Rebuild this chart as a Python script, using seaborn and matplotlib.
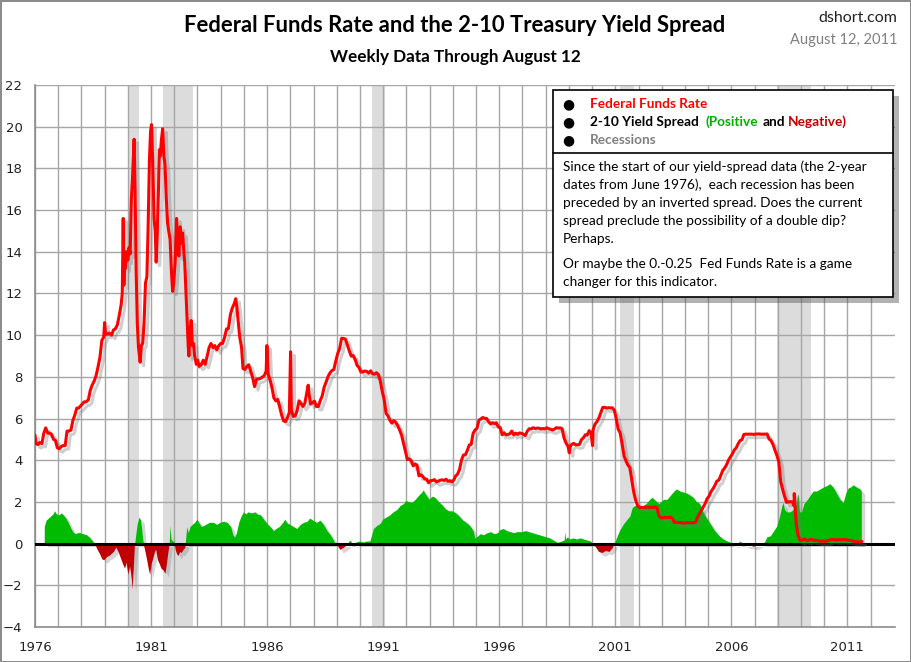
import matplotlib
matplotlib.use("Agg")
import matplotlib.pyplot as plt
import matplotlib.patheffects as pe
from matplotlib.patches import Rectangle
import numpy as np
import pandas as pd
import seaborn as sns

# ---------------- data ----------------
ff_years_a = [1976.00, 1976.04, 1976.12, 1976.20, 1976.30, 1976.38, 1976.46, 1976.55, 1976.63, 1976.71,
              1976.80, 1976.88, 1976.96, 1977.04, 1977.12, 1977.20, 1977.30, 1977.38, 1977.46, 1977.55,
              1977.63, 1977.71, 1977.80, 1977.88, 1977.96, 1978.04, 1978.12, 1978.20, 1978.30, 1978.38,
              1978.46, 1978.55, 1978.63, 1978.71, 1978.80, 1978.88, 1978.96, 1979.00, 1979.04, 1979.12,
              1979.20, 1979.30, 1979.38, 1979.46, 1979.55, 1979.63, 1979.71, 1979.76, 1979.80, 1979.83,
              1979.86, 1979.90, 1979.95, 1980.00, 1980.05, 1980.10, 1980.15, 1980.20, 1980.27, 1980.31,
              1980.36, 1980.41, 1980.46, 1980.50, 1980.53, 1980.58, 1980.64, 1980.70, 1980.76, 1980.82,
              1980.87, 1980.93, 1980.98, 1981.02, 1981.07, 1981.13, 1981.18, 1981.22, 1981.27, 1981.32,
              1981.36, 1981.40, 1981.44, 1981.50, 1981.55, 1981.60, 1981.66, 1981.71, 1981.76, 1981.82,
              1981.88, 1981.93, 1981.98, 1982.04, 1982.10, 1982.15, 1982.20, 1982.25, 1982.30, 1982.36,
              1982.40, 1982.45, 1982.50, 1982.55, 1982.60, 1982.63, 1982.68, 1982.73, 1982.78, 1982.83,
              1982.88, 1982.95, 1983.00, 1983.08, 1983.17, 1983.25, 1983.33, 1983.42, 1983.50, 1983.58,
              1983.67, 1983.75, 1983.83, 1983.92, 1984.00, 1984.08, 1984.17, 1984.25, 1984.33, 1984.42,
              1984.50, 1984.58, 1984.65, 1984.70, 1984.76, 1984.82, 1984.90, 1984.96]
ff_vals_a = [5.2, 4.8, 4.75, 4.85, 4.8, 5.3, 5.55, 5.3, 5.3, 5.25,
             5.0, 4.95, 4.6, 4.55, 4.65, 4.7, 4.7, 5.4, 5.4, 5.45,
             5.9, 6.15, 6.5, 6.5, 6.6, 6.7, 6.8, 6.8, 6.9, 7.35,
             7.6, 7.8, 8.05, 8.45, 8.95, 9.75, 9.9, 10.6, 10.05, 10.05,
             10.1, 10.0, 10.25, 10.3, 10.5, 10.95, 11.45, 12.0, 15.6, 12.4,
             14.0, 13.2, 14.0, 13.6, 14.2, 13.9, 16.5, 17.5, 19.4, 17.0,
             13.0, 10.5, 9.4, 9.0, 8.7, 9.5, 9.6, 10.6, 12.5, 12.8,
             15.0, 18.4, 19.8, 20.1, 18.4, 15.6, 15.0, 13.5, 15.0, 17.0,
             18.9, 18.6, 19.3, 19.9, 18.6, 18.2, 16.5, 15.4, 15.0, 14.6,
             13.0, 12.1, 12.6, 13.5, 15.6, 14.0, 13.8, 15.2, 14.4, 14.9,
             14.2, 13.5, 12.2, 11.0, 9.5, 9.0, 10.2, 10.7, 9.5, 9.6,
             9.0, 8.6, 8.8, 8.5, 8.6, 8.8, 8.6, 9.0, 9.4, 9.6,
             9.4, 9.5, 9.3, 9.5, 9.6, 9.6, 9.9, 10.3, 10.3, 11.0,
             11.3, 11.5, 11.75, 11.3, 10.6, 9.9, 9.4, 8.4]

# monthly readings 1985 - Aug 2011 (mid-month)
ff_monthly_start = 1985
ff_monthly = [
    8.35, 8.50, 8.58, 8.27, 7.97, 7.53, 7.88, 7.90, 7.92, 7.99, 8.05, 8.27,
    8.14, 7.86, 7.48, 6.99, 6.85, 6.92, 6.56, 6.17, 5.89, 5.85, 6.04, 6.30,
    6.43, 6.10, 6.13, 6.37, 6.85, 6.73, 6.58, 6.73, 7.22, 7.29, 6.69, 6.77,
    6.83, 6.58, 6.58, 6.87, 7.09, 7.51, 7.75, 8.01, 8.19, 8.30, 8.35, 8.76,
    9.12, 9.36, 9.85, 9.84, 9.81, 9.53, 9.24, 8.99, 9.02, 8.84, 8.55, 8.45,
    8.23, 8.24, 8.28, 8.26, 8.18, 8.29, 8.15, 8.13, 8.20, 8.11, 7.81, 7.31,
    6.91, 6.25, 6.12, 5.91, 5.78, 5.90, 5.82, 5.66, 5.45, 5.21, 4.81, 4.43,
    4.03, 4.06, 3.98, 3.73, 3.82, 3.76, 3.25, 3.30, 3.22, 3.10, 3.09, 2.92,
    3.02, 3.03, 3.07, 2.96, 3.00, 3.04, 3.06, 3.03, 3.09, 2.99, 3.02, 2.96,
    3.05, 3.25, 3.34, 3.56, 4.01, 4.25, 4.26, 4.47, 4.73, 4.76, 5.29, 5.45,
    5.53, 5.92, 5.98, 6.05, 6.01, 6.00, 5.85, 5.74, 5.80, 5.76, 5.80, 5.60,
    5.56, 5.22, 5.31, 5.22, 5.24, 5.27, 5.40, 5.22, 5.30, 5.24, 5.31, 5.29,
    5.25, 5.19, 5.39, 5.51, 5.50, 5.56, 5.52, 5.54, 5.54, 5.50, 5.52, 5.50,
    5.56, 5.51, 5.49, 5.45, 5.49, 5.56, 5.54, 5.55, 5.51, 5.07, 4.83, 4.68,
    4.63, 4.76, 4.81, 4.74, 4.74, 4.76, 4.99, 5.07, 5.22, 5.20, 5.42, 5.30,
    5.45, 5.73, 5.85, 6.02, 6.27, 6.53, 6.54, 6.50, 6.52, 6.51, 6.51, 6.40,
    5.98, 5.49, 5.31, 4.80, 4.21, 3.97, 3.77, 3.65, 3.07, 2.49, 2.09, 1.82,
    1.73, 1.74, 1.73, 1.75, 1.75, 1.75, 1.73, 1.74, 1.75, 1.75, 1.34, 1.24,
    1.24, 1.26, 1.25, 1.26, 1.26, 1.22, 1.01, 1.03, 1.01, 1.01, 1.00, 0.98,
    1.00, 1.01, 1.00, 1.00, 1.00, 1.03, 1.26, 1.43, 1.61, 1.76, 1.93, 2.16,
    2.28, 2.50, 2.63, 2.79, 3.00, 3.04, 3.26, 3.50, 3.62, 3.78, 4.00, 4.16,
    4.29, 4.49, 4.59, 4.79, 4.94, 4.99, 5.24, 5.25, 5.25, 5.25, 5.25, 5.24,
    5.25, 5.26, 5.26, 5.25, 5.25, 5.25, 5.26, 5.02, 4.94, 4.76, 4.49, 4.24,
    3.94, 2.98, 2.61, 2.28, 1.98, 2.00, 2.01, 2.00, 1.81, 0.97, 0.39, 0.16,
    0.15, 0.22, 0.18, 0.15, 0.18, 0.21, 0.16, 0.16, 0.15, 0.12, 0.12, 0.12,
    0.11, 0.13, 0.16, 0.20, 0.20, 0.18, 0.18, 0.19, 0.19, 0.19, 0.19, 0.18,
    0.17, 0.16, 0.14, 0.10, 0.09, 0.09, 0.07, 0.10]

# weekly spikes visible in the reference
ff_spike_years = [1985.99, 1987.01, 1987.77, 1999.02, 2000.02, 2008.71]
ff_spike_vals = [9.5, 9.2, 7.6, 4.35, 4.7, 2.4]

spread_years = [
    1976.42, 1976.50, 1976.60, 1976.70, 1976.80, 1976.86, 1976.95, 1977.05, 1977.15, 1977.25,
    1977.35, 1977.45, 1977.55, 1977.65, 1977.75, 1977.85, 1977.95, 1978.10, 1978.25, 1978.40,
    1978.50, 1978.60, 1978.70, 1978.80, 1978.90, 1978.98, 1979.10, 1979.20, 1979.30, 1979.40,
    1979.50, 1979.60, 1979.70, 1979.80, 1979.88, 1979.95, 1980.02, 1980.10, 1980.16, 1980.21,
    1980.25, 1980.30, 1980.35, 1980.42, 1980.50, 1980.58, 1980.65, 1980.70, 1980.78, 1980.85,
    1980.90, 1980.96, 1981.02, 1981.10, 1981.17, 1981.22, 1981.30, 1981.38, 1981.45, 1981.55,
    1981.62, 1981.68, 1981.75, 1981.80, 1981.84, 1981.88, 1981.95, 1982.02, 1982.06, 1982.12,
    1982.18, 1982.25, 1982.32, 1982.40, 1982.48, 1982.52, 1982.56, 1982.62, 1982.70, 1982.80,
    1982.90, 1983.00, 1983.08, 1983.18, 1983.30, 1983.45, 1983.55, 1983.70, 1983.85, 1984.00,
    1984.15, 1984.30, 1984.45, 1984.55, 1984.62, 1984.70, 1984.80, 1984.90, 1985.00, 1985.10,
    1985.20, 1985.35, 1985.50, 1985.60, 1985.75, 1985.90, 1986.05, 1986.15, 1986.30, 1986.40,
    1986.55, 1986.70, 1986.78, 1986.90, 1987.00, 1987.15, 1987.30, 1987.45, 1987.60, 1987.75,
    1987.85, 1988.00, 1988.15, 1988.30, 1988.45, 1988.60, 1988.75, 1988.85, 1988.95, 1989.05,
    1989.15, 1989.30, 1989.42, 1989.50, 1989.58, 1989.65, 1989.75, 1989.85, 1990.00, 1990.15,
    1990.30, 1990.45, 1990.50, 1990.60, 1990.75, 1990.90, 1991.00, 1991.15, 1991.30, 1991.45,
    1991.60, 1991.75, 1991.90, 1992.00, 1992.10, 1992.25, 1992.40, 1992.55, 1992.65, 1992.75,
    1992.85, 1993.00, 1993.12, 1993.25, 1993.40, 1993.55, 1993.70, 1993.85, 1994.00, 1994.15,
    1994.30, 1994.45, 1994.60, 1994.75, 1994.90, 1994.97, 1995.05, 1995.20, 1995.35, 1995.50,
    1995.65, 1995.80, 1995.95, 1996.05, 1996.20, 1996.35, 1996.50, 1996.65, 1996.80, 1997.00,
    1997.15, 1997.30, 1997.45, 1997.60, 1997.75, 1997.90, 1998.05, 1998.20, 1998.35, 1998.50,
    1998.60, 1998.70, 1998.82, 1998.84, 1998.88, 1998.95, 1999.05, 1999.20, 1999.35, 1999.50,
    1999.65, 1999.80, 1999.95, 2000.05, 2000.15, 2000.30, 2000.45, 2000.60, 2000.75, 2000.90,
    2000.98, 2001.05, 2001.20, 2001.36, 2001.50, 2001.65, 2001.75, 2001.85, 2002.00, 2002.12,
    2002.22, 2002.35, 2002.50, 2002.60, 2002.70, 2002.80, 2002.90, 2003.00, 2003.10, 2003.25,
    2003.40, 2003.55, 2003.66, 2003.80, 2003.95, 2004.10, 2004.25, 2004.38, 2004.50, 2004.66,
    2004.80, 2004.95, 2005.10, 2005.30, 2005.50, 2005.67, 2005.85, 2005.96, 2006.05, 2006.20,
    2006.35, 2006.40, 2006.50, 2006.70, 2006.85, 2006.96, 2007.10, 2007.25, 2007.45, 2007.55,
    2007.70, 2007.85, 2007.97, 2008.10, 2008.20, 2008.25, 2008.32, 2008.40, 2008.55, 2008.67,
    2008.80, 2008.90, 2008.95, 2009.05, 2009.15, 2009.30, 2009.45, 2009.55, 2009.70, 2009.85,
    2010.00, 2010.12, 2010.26, 2010.40, 2010.55, 2010.70, 2010.84, 2010.95, 2011.06, 2011.17,
    2011.27, 2011.40, 2011.56, 2011.62]
spread_vals = [
    0.8, 1.1, 1.2, 1.3, 1.4, 1.55, 1.4, 1.35, 1.45, 1.35,
    1.2, 1.0, 0.75, 0.55, 0.45, 0.5, 0.5, 0.45, 0.4, 0.25,
    0.1, -0.05, -0.3, -0.5, -0.75, -0.8, -0.65, -0.6, -0.5, -0.4,
    -0.2, -0.4, -0.7, -1.0, -1.2, -0.9, -1.5, -1.1, -1.6, -2.2,
    -1.3, -0.2, 0.3, 0.9, 1.25, 1.1, 0.3, -0.1, -0.5, -0.9,
    -1.2, -1.5, -1.0, -0.7, -0.4, -0.3, -0.8, -1.0, -1.2, -1.3,
    -1.45, -1.0, -0.4, -0.05, 0.85, 0.2, 0.1, 0.05, -0.3, -0.5,
    -0.6, -0.4, -0.45, -0.3, -0.2, 0.3, 0.8, 0.5, 0.8, 0.9,
    1.0, 1.15, 1.0, 0.8, 0.85, 0.95, 1.0, 1.0, 0.9, 1.0,
    1.05, 1.0, 0.8, 0.4, 0.28, 0.5, 1.0, 1.3, 1.5, 1.4,
    1.5, 1.45, 1.5, 1.4, 1.35, 1.1, 0.9, 0.8, 0.6, 0.7,
    0.8, 1.0, 1.15, 0.95, 0.9, 0.8, 0.7, 0.9, 1.0, 1.05,
    1.2, 1.1, 1.0, 1.1, 0.9, 0.6, 0.4, 0.2, 0.0, -0.1,
    -0.3, -0.2, -0.1, 0.0, 0.15, 0.05, -0.05, 0.05, 0.1, 0.05,
    0.1, 0.1, 0.3, 0.7, 0.85, 0.95, 1.15, 1.25, 1.35, 1.5,
    1.6, 1.8, 1.9, 2.05, 2.0, 1.95, 2.1, 2.3, 2.4, 2.55,
    2.35, 2.1, 2.25, 2.2, 2.0, 1.85, 1.65, 1.55, 1.55, 1.45,
    1.3, 1.1, 1.0, 0.85, 0.6, 0.25, 0.3, 0.45, 0.4, 0.5,
    0.55, 0.45, 0.5, 0.65, 0.7, 0.6, 0.55, 0.5, 0.55, 0.55,
    0.6, 0.55, 0.5, 0.45, 0.4, 0.35, 0.3, 0.25, 0.15, 0.05,
    0.05, 0.1, 0.15, 0.55, 0.2, 0.3, 0.2, 0.25, 0.2, 0.25,
    0.2, 0.15, 0.1, 0.0, -0.15, -0.4, -0.45, -0.35, -0.4, -0.2,
    0.0, 0.2, 0.6, 0.9, 1.1, 1.3, 1.7, 1.8, 1.8, 1.7,
    1.8, 1.9, 2.1, 2.2, 2.1, 2.0, 1.9, 2.0, 2.1, 2.1,
    2.3, 2.5, 2.6, 2.5, 2.45, 2.4, 2.3, 2.2, 2.0, 1.9,
    1.5, 1.2, 0.95, 0.6, 0.35, 0.2, 0.1, 0.05, 0.0, -0.05,
    0.05, 0.1, 0.0, -0.1, -0.1, -0.15, -0.1, 0.0, 0.05, 0.3,
    0.35, 0.6, 0.8, 1.3, 1.8, 1.95, 1.6, 1.5, 1.5, 1.6,
    1.8, 2.4, 1.5, 1.5, 1.9, 2.1, 2.35, 2.5, 2.5, 2.6,
    2.7, 2.75, 2.85, 2.7, 2.4, 2.1, 1.95, 2.4, 2.65, 2.7,
    2.8, 2.7, 2.6, 2.5]

recession_starts = [1980.01, 1981.52, 1990.53, 2001.21, 2007.98]
recession_ends = [1980.49, 1982.81, 1991.09, 2001.82, 2009.45]

year_ticks = list(range(1976, 2013))
year_labels = [str(y) if (y - 1976) % 5 == 0 else "" for y in year_ticks]
y_ticks = list(range(-4, 23, 2))

title = "Federal Funds Rate and the 2-10 Treasury Yield Spread"
subtitle = "Weekly Data Through August 12"
source = "dshort.com"
date_txt = "August 12, 2011"
legend_ff = "Federal Funds Rate"
legend_spread_parts = [("2-10 Yield Spread", "black", 0), ("(Positive", "#00b000", 7),
                       ("and", "black", 4), ("Negative)", "#c00000", 3)]
legend_rec = "Recessions"
note_lines = ["Since the start of our yield-spread data (the 2-year",
              "dates from June 1976),  each recession has been",
              "preceded by an inverted spread. Does the current",
              "spread preclude the possibility of a double dip?",
              "Perhaps."]
note_lines2 = ["Or maybe the 0.-0.25  Fed Funds Rate is a game",
               "changer for this indicator."]

# ---------------- build frames ----------------
ff_monthly_years = [ff_monthly_start + i / 12 + 1 / 24 for i in range(len(ff_monthly))]
ff_df = pd.DataFrame({"year": ff_years_a + ff_monthly_years + ff_spike_years,
                      "rate": ff_vals_a + ff_monthly + ff_spike_vals}).sort_values("year")
sp_df = pd.DataFrame({"year": spread_years, "spread": spread_vals})
sp_x = np.concatenate([[spread_years[0]], sp_df["year"].values, [spread_years[-1]]])
sp_y = np.concatenate([[0.0], sp_df["spread"].values, [0.0]])

# ---------------- figure ----------------
sns.set_theme(style="white")
plt.rcParams['font.family'] = ['DejaVu Sans']
W, H = 911, 662
fig = plt.figure(figsize=(W / 100, H / 100), dpi=100)
fig.patch.set_facecolor("white")
fig.patch.set_edgecolor("#8c8c8c")
fig.patch.set_linewidth(2)

ax = fig.add_axes([35 / W, 1 - 627 / H, (895 - 35) / W, (627 - 85) / H])
ax.set_xlim(1976, 2013.05)
ax.set_ylim(-4, 22)

for s, e in zip(recession_starts, recession_ends):
    ax.axvspan(s, e, color="#dcdcdc", zorder=0.2, lw=0)

ax.set_axisbelow(True)
ax.set_xticks(year_ticks)
ax.set_xticklabels(year_labels)
ax.set_yticks(y_ticks)
ax.grid(True, color="#a6a6a6", lw=1)

shadow = [pe.SimplePatchShadow(offset=(2.5, -2.5), shadow_rgbFace="#888888", alpha=0.35), pe.Normal()]
pos = ax.fill_between(sp_x, sp_y, 0, where=sp_y >= 0, interpolate=True, color="#00bb00", lw=0, zorder=2)
neg = ax.fill_between(sp_x, sp_y, 0, where=sp_y <= 0, interpolate=True, color="#c00000", lw=0, zorder=2)
pos.set_path_effects(shadow)
neg.set_path_effects(shadow)

ax.axhline(0, color="black", lw=2.2, zorder=3)

sns.lineplot(data=ff_df, x="year", y="rate", ax=ax, color="#ff0000", lw=2.2, zorder=4,
             estimator=None, sort=False)
ax.lines[-1].set_path_effects([pe.SimpleLineShadow(offset=(2.5, -2.5), shadow_color="#777777", alpha=0.35),
                               pe.Normal()])
ax.set_xlabel("")
ax.set_ylabel("")

for side in ["top", "right"]:
    ax.spines[side].set_visible(False)
for side in ["left", "bottom"]:
    ax.spines[side].set_color("#8c8c8c")
    ax.spines[side].set_linewidth(1.2)
ax.tick_params(axis="y", length=5, color="#8c8c8c", labelsize=9.5, labelcolor="#222222", pad=4)
ax.tick_params(axis="x", length=0, labelsize=9.5, labelcolor="#222222", pad=10)

# ---------------- titles ----------------
fig.text(455 / W, 1 - 25 / H, title, ha="center", va="center", fontsize=15.8, fontweight="bold",
         family="Lato", color="black")
fig.text(455 / W, 1 - 57 / H, subtitle, ha="center", va="center", fontsize=12.3, fontweight="bold",
         family="Lato", color="black")
fig.text(897 / W, 1 - 18 / H, source, ha="right", va="center", fontsize=11.5, family="Lato", color="#222222")
fig.text(897 / W, 1 - 40 / H, date_txt, ha="right", va="center", fontsize=10.5, family="Lato", color="#808080")

# ---------------- legend / note box ----------------
bx0, by0, bx1, by1 = 553, 90, 893, 297
box = Rectangle((bx0 / W, 1 - by1 / H), (bx1 - bx0) / W, (by1 - by0) / H, transform=fig.transFigure,
                facecolor="white", edgecolor="black", lw=1.2, zorder=10)
box.set_path_effects([pe.SimplePatchShadow(offset=(4, -4), shadow_rgbFace="#555555", alpha=0.45), pe.Normal()])
fig.add_artist(box)
fig.add_artist(plt.Line2D([bx0 / W, bx1 / W], [1 - 153 / H, 1 - 153 / H], transform=fig.transFigure,
                          color="black", lw=1.2, zorder=11))

fs = 9.8
for yy in [104, 122, 140]:
    fig.text(568 / W, 1 - yy / H, "●", ha="center", va="center", fontsize=10, color="black", zorder=12)
fig.text(590 / W, 1 - 104 / H, legend_ff, va="center", fontsize=fs, family="Lato",
         fontweight="bold", color="#ff0000", zorder=12)

renderer = fig.canvas.get_renderer()
xpos = 590
for txt, col, gap in legend_spread_parts:
    xpos += gap
    t = fig.text(xpos / W, 1 - 122 / H, txt, va="center", fontsize=fs, family="Lato",
                 fontweight="bold", color=col, zorder=12)
    bb = t.get_window_extent(renderer=renderer)
    xpos = bb.x1

fig.text(590 / W, 1 - 140 / H, legend_rec, va="center", fontsize=fs, family="Lato",
         fontweight="bold", color="#808080", zorder=12)

for i, line in enumerate(note_lines):
    fig.text(563 / W, 1 - (167 + 18 * i) / H, line, va="center", fontsize=fs, family="Lato",
             color="black", zorder=12)
for i, line in enumerate(note_lines2):
    fig.text(563 / W, 1 - (264 + 18 * i) / H, line, va="center", fontsize=fs, family="Lato",
             color="black", zorder=12)

fig.savefig("out.png", dpi=100, facecolor=fig.get_facecolor(), edgecolor=fig.get_edgecolor())
